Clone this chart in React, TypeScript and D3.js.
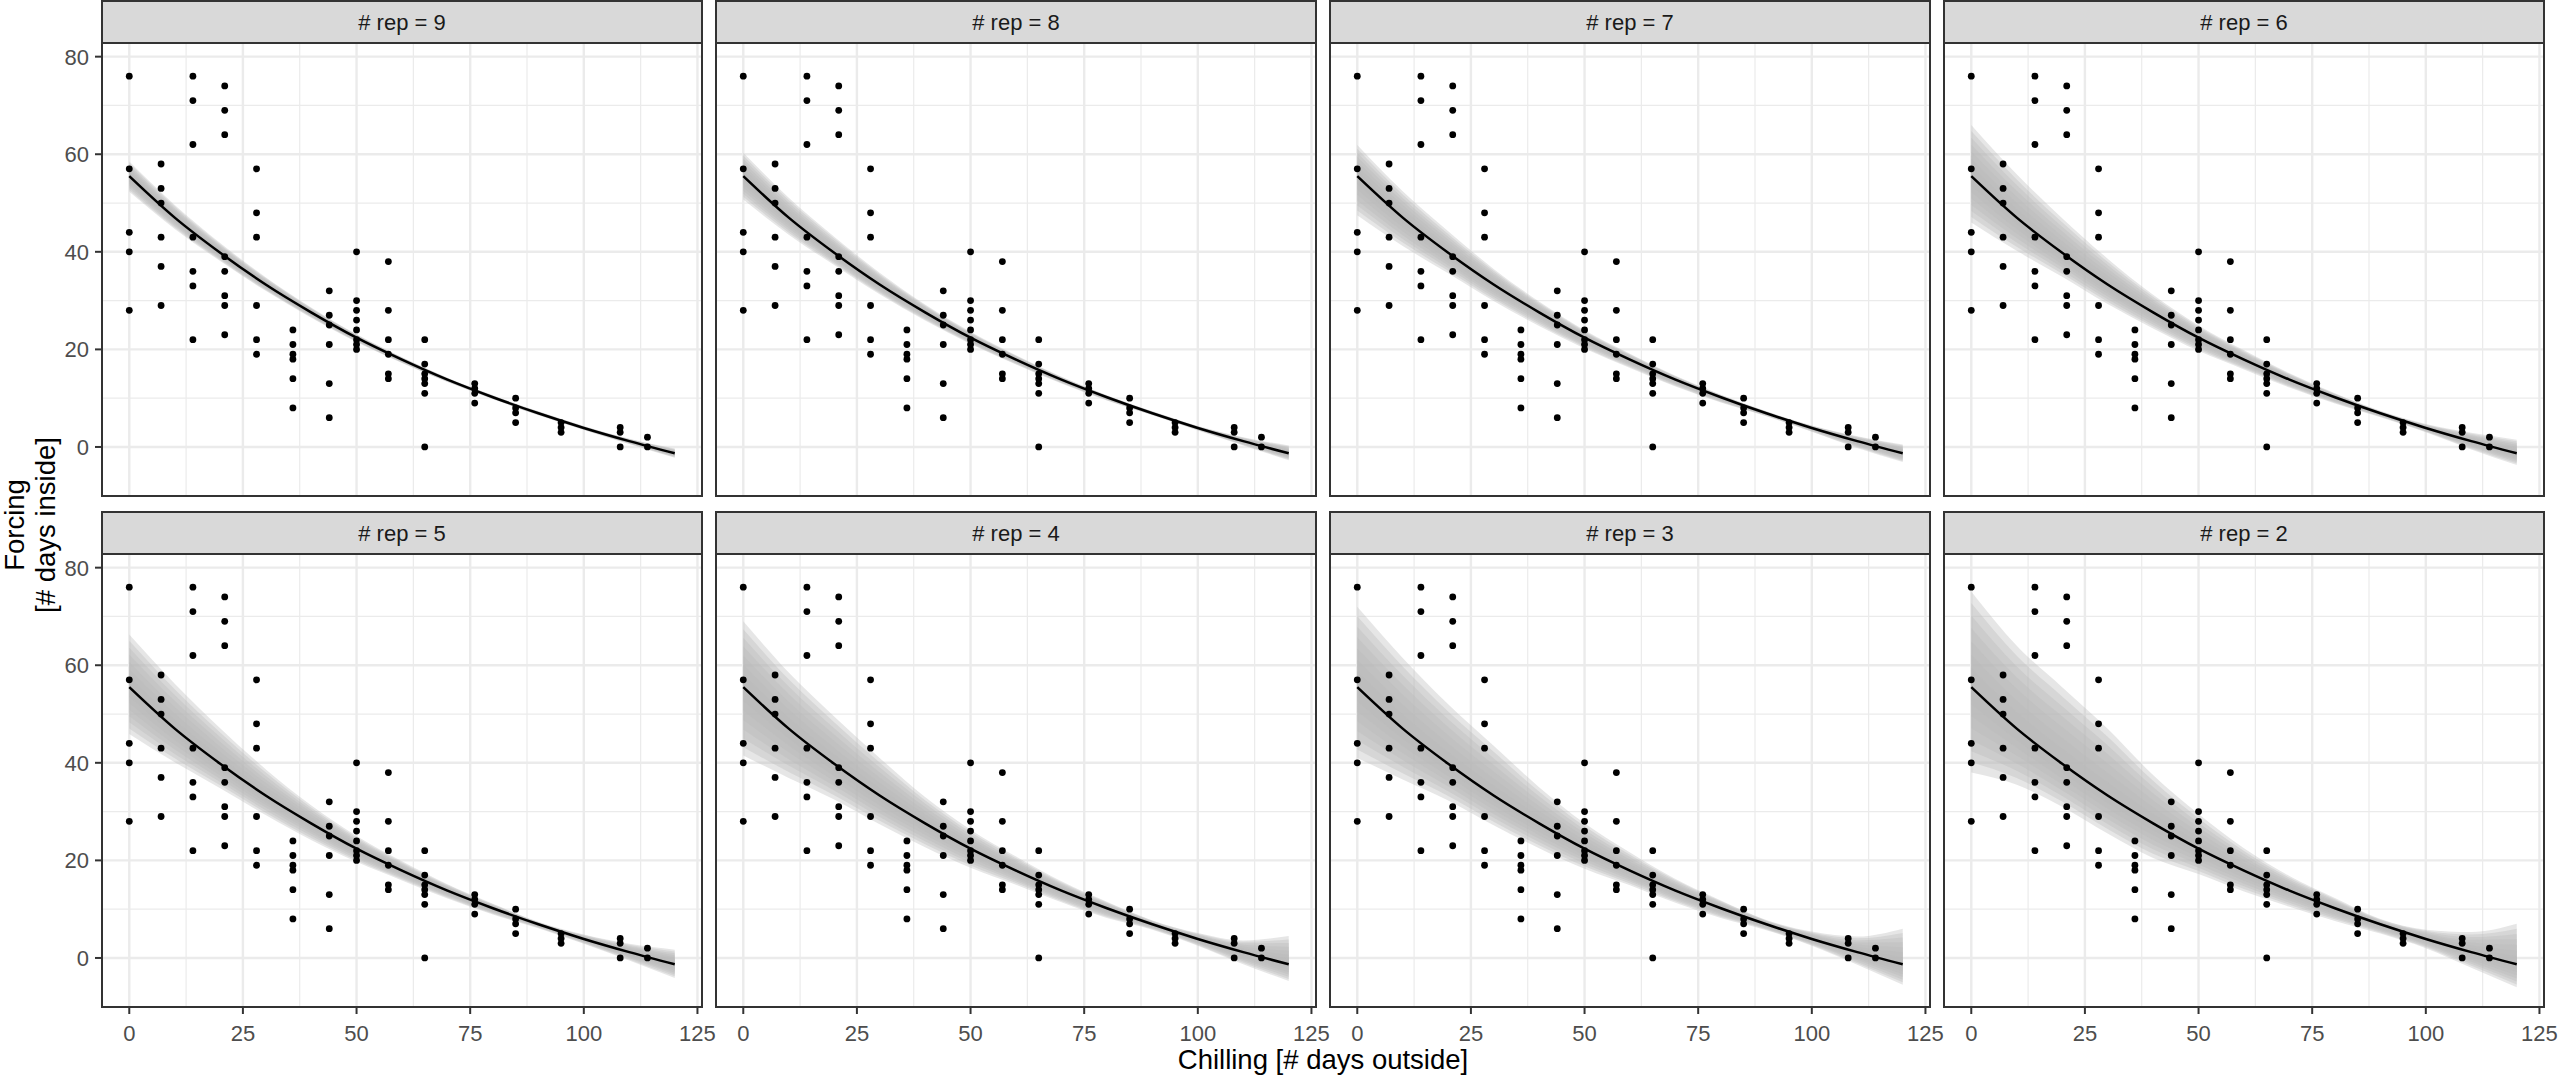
import * as d3 from "d3"

// observed chilling days (x) and forcing days (y) per chilling level
const chillDays = [0, 7, 14, 21, 28, 36, 44, 50, 57, 65, 76, 85, 95, 108, 114]
const forcingDays = [
  [76, 57, 44, 40, 28],
  [58, 53, 50, 43, 37, 29],
  [76, 71, 62, 43, 36, 33, 22],
  [74, 69, 64, 39, 36, 31, 29, 23],
  [57, 48, 43, 29, 22, 19],
  [24, 21, 19, 18, 14, 8],
  [32, 27, 25, 21, 13, 6],
  [40, 30, 28, 26, 24, 22, 21, 20],
  [38, 28, 22, 19, 15, 14],
  [22, 17, 15, 14, 13, 11, 0],
  [13, 12, 11, 9],
  [10, 8, 7, 5],
  [5, 4, 3],
  [4, 3, 0],
  [2, 0],
]

// fitted curve, read at these x positions
const curveX = [0, 10, 20, 30, 40, 50, 60, 70, 80, 90, 100, 110, 120]
const fitForcing = [55.5, 47.0, 39.8, 33.3, 27.6, 22.4, 17.9, 13.8, 10.2, 6.9, 3.9, 1.2, -1.3]

// facets, and the spread of the resampled fits in each one
const reps = [9, 8, 7, 6, 5, 4, 3, 2]
const bandUpper = [
  [58.5, 49.6, 41.8, 34.8, 28.6, 23.1, 18.4, 14.2, 10.6, 7.3, 4.3, 1.7, -0.3],
  [60.3, 51.1, 43.1, 35.7, 29.2, 23.6, 18.8, 14.4, 10.6, 7.3, 4.3, 2.0, 0.3],
  [61.9, 52.4, 44.2, 36.5, 29.8, 23.9, 19.1, 14.6, 10.7, 7.3, 4.4, 2.2, 0.5],
  [66.0, 55.9, 46.9, 38.6, 31.2, 24.9, 19.8, 15.1, 11.0, 7.4, 4.7, 2.9, 1.5],
  [66.3, 56.2, 47.1, 38.7, 31.3, 25.0, 19.8, 15.1, 11.1, 7.4, 4.8, 2.9, 1.7],
  [69.0, 58.5, 49.5, 41.0, 33.0, 26.3, 20.8, 15.7, 11.5, 7.7, 5.1, 3.6, 4.5],
  [72.0, 61.5, 52.0, 43.5, 35.0, 27.6, 21.6, 16.2, 11.8, 7.8, 5.4, 4.4, 6.0],
  [75.1, 64.0, 55.5, 47.0, 37.5, 29.5, 22.5, 16.8, 12.3, 8.0, 5.8, 5.3, 7.0],
]
const bandLower = [
  [52.3, 44.7, 38.1, 32.0, 26.5, 21.5, 17.2, 13.3, 9.8, 6.5, 3.5, 0.6, -2.2],
  [50.7, 43.5, 37.3, 31.3, 25.9, 21.1, 16.9, 13.0, 9.5, 6.5, 3.4, 0.3, -2.7],
  [47.5, 41.2, 35.6, 29.9, 24.8, 20.2, 16.2, 12.4, 9.1, 6.3, 3.1, -0.2, -3.1],
  [46.0, 40.2, 34.9, 29.3, 24.3, 19.7, 15.9, 12.2, 8.9, 6.1, 3.0, -0.5, -3.7],
  [45.9, 40.1, 34.8, 29.3, 24.2, 19.7, 15.9, 12.2, 8.9, 6.1, 2.9, -0.5, -4.1],
  [41.5, 36.9, 32.5, 27.4, 22.7, 18.5, 15.0, 11.4, 8.2, 5.8, 2.5, -1.3, -4.7],
  [41.0, 36.6, 32.3, 27.2, 22.5, 18.3, 14.9, 11.3, 8.2, 5.7, 2.5, -1.4, -5.5],
  [38.0, 35.5, 31.0, 25.5, 20.5, 17.2, 13.6, 10.5, 7.6, 5.0, 2.0, -2.0, -6.0],
]

const xBreaks = [0, 25, 50, 75, 100, 125]
const xMinor = [12.5, 37.5, 62.5, 87.5, 112.5]
const yBreaks = [0, 20, 40, 60, 80]
const yMinor = [10, 30, 50, 70]

const W = 2559
const H = 1076
const colLeft = [102, 716, 1330, 1944]
const rowStrip = [1, 512]
const panelW = 600
const stripH = 42
const panelH = 453
const font = "'Liberation Sans', Arial, sans-serif"
const layers = [1, 0.88, 0.75, 0.62, 0.48, 0.34, 0.2]

type Pt = [number, number]

function Panel({ i }: { i: number }) {
  const col = i % 4
  const row = Math.floor(i / 4)
  const left = colLeft[col]
  const top = rowStrip[row] + stripH

  const x = d3.scaleLinear().domain([-6, 126]).range([left, left + panelW])
  const y = d3.scaleLinear().domain([-10.05, 82.8]).range([top + panelH, top])

  const line = d3
    .line<Pt>()
    .x(d => x(d[0]))
    .y(d => y(d[1]))
    .curve(d3.curveMonotoneX)

  const fitPts: Pt[] = curveX.map((cx, k) => [cx, fitForcing[k]])

  const bands = layers.map(t => {
    const area = d3
      .area<number>()
      .x(k => x(curveX[k]))
      .y0(k => y(fitForcing[k] + t * (bandLower[i][k] - fitForcing[k])))
      .y1(k => y(fitForcing[k] + t * (bandUpper[i][k] - fitForcing[k])))
      .curve(d3.curveMonotoneX)
    return area(curveX.map((_, k) => k)) ?? ""
  })

  const points: Pt[] = chillDays.flatMap((cx, k) => forcingDays[k].map(v => [cx, v] as Pt))

  return (
    <g>
      {/* strip */}
      <rect x={left} y={rowStrip[row]} width={panelW} height={stripH} fill="#d9d9d9" stroke="#333333" strokeWidth={2} />
      <text
        x={left + panelW / 2}
        y={rowStrip[row] + stripH / 2}
        dy="0.36em"
        textAnchor="middle"
        fontSize={22}
        fill="#1a1a1a"
        fontFamily={font}
      >
        {`# rep = ${reps[i]}`}
      </text>

      {/* panel */}
      <rect x={left} y={top} width={panelW} height={panelH} fill="white" />
      {xMinor.map(v => (
        <line key={"xm" + v} x1={x(v)} x2={x(v)} y1={top} y2={top + panelH} stroke="#ebebeb" strokeWidth={1.2} />
      ))}
      {yMinor.map(v => (
        <line key={"ym" + v} x1={left} x2={left + panelW} y1={y(v)} y2={y(v)} stroke="#ebebeb" strokeWidth={1.2} />
      ))}
      {xBreaks.map(v => (
        <line key={"xM" + v} x1={x(v)} x2={x(v)} y1={top} y2={top + panelH} stroke="#ebebeb" strokeWidth={2.4} />
      ))}
      {yBreaks.map(v => (
        <line key={"yM" + v} x1={left} x2={left + panelW} y1={y(v)} y2={y(v)} stroke="#ebebeb" strokeWidth={2.4} />
      ))}

      {bands.map((d, k) => (
        <path key={"b" + k} d={d} fill="#bababa" fillOpacity={0.36} />
      ))}

      {points.map((p, k) => (
        <circle key={"p" + k} cx={x(p[0])} cy={y(p[1])} r={3.4} fill="black" />
      ))}

      <path d={line(fitPts) ?? ""} fill="none" stroke="black" strokeWidth={2.5} />

      <rect x={left} y={top} width={panelW} height={panelH} fill="none" stroke="#333333" strokeWidth={2} />

      {/* y axis on first column */}
      {col === 0 &&
        yBreaks.map(v => (
          <g key={"yt" + v}>
            <line x1={left - 7} x2={left} y1={y(v)} y2={y(v)} stroke="#333333" strokeWidth={2} />
            <text
              x={left - 13}
              y={y(v)}
              dy="0.36em"
              textAnchor="end"
              fontSize={22}
              fill="#4d4d4d"
              fontFamily={font}
            >
              {v}
            </text>
          </g>
        ))}

      {/* x axis on bottom row */}
      {row === 1 &&
        xBreaks.map(v => (
          <g key={"xt" + v}>
            <line x1={x(v)} x2={x(v)} y1={top + panelH} y2={top + panelH + 7} stroke="#333333" strokeWidth={2} />
            <text
              x={x(v)}
              y={top + panelH + 34}
              textAnchor="middle"
              fontSize={22}
              fill="#4d4d4d"
              fontFamily={font}
            >
              {v}
            </text>
          </g>
        ))}
    </g>
  )
}

export default function App() {
  const midY = (rowStrip[0] + stripH + rowStrip[1] + stripH + panelH) / 2
  const midX = (colLeft[0] + colLeft[3] + panelW) / 2

  return (
    <svg
      width={W}
      height={H}
      style={{ position: "fixed", left: 0, top: 0, background: "white" }}
    >
      <rect width={W} height={H} fill="white" />
      {reps.map((_, i) => (
        <Panel key={i} i={i} />
      ))}

      <text x={midX} y={1069} textAnchor="middle" fontSize={27.5} fill="black" fontFamily={font}>
        Chilling [# days outside]
      </text>

      <g transform={`translate(0, ${midY}) rotate(-90)`}>
        <text x={0} y={24} textAnchor="middle" fontSize={27.5} fill="black" fontFamily={font}>
          Forcing
        </text>
        <text x={0} y={55} textAnchor="middle" fontSize={27.5} fill="black" fontFamily={font}>
          [# days inside]
        </text>
      </g>
    </svg>
  )
}
